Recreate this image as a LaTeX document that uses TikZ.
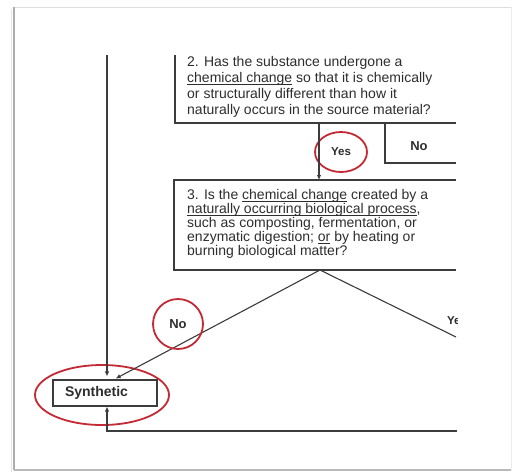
\documentclass[tikz,border=0pt]{standalone}
\usepackage{fontspec}
\setmainfont{Liberation Sans}
\usetikzlibrary{arrows.meta,shapes.geometric}
\definecolor{ink}{HTML}{2E2E2E}
\definecolor{linec}{HTML}{3C3C3C}
\definecolor{ring}{HTML}{C42A35}
\newcommand\fsz[2]{\fontsize{#1}{#2}\selectfont}
\newcommand\undl[1]{\setbox0\hbox{#1}\rlap{\vrule width\wd0 height -1.4pt depth 2.0pt}\box0\relax}
\begin{document}
\begin{tikzpicture}[x=1pt,y=-1pt,
  flow/.style={draw=linec,line width=1.1pt},
  arr/.style={flow,-{Latex[length=5pt,width=4.5pt]}},
  qtext/.style={anchor=north west,inner sep=0pt,align=left,text=ink},
  lbl/.style={text=ink,font=\bfseries\fsz{12}{14}},
  redring/.style={ellipse,draw=ring,line width=1.8pt,inner sep=0pt}]
\useasboundingbox (0,0) rectangle (519,472);
% outer frame
\fill[white] (14,7) rectangle (511,470);
\draw[gray!25,line width=0.8pt] (14,7) -- (511,7);
\draw[gray!15,line width=0.8pt] (511,7) -- (511,470);
\draw[gray!65,line width=1.6pt] (14,7) -- (14,470);
\draw[gray!55,line width=1.6pt] (14,470) -- (511,470);
\draw[gray!20,line width=1.5pt] (11.5,9) -- (11.5,472);

% coordinates
\coordinate (toptrunk) at (107,55);
\coordinate (b2tl) at (175,55);
\coordinate (b2bl) at (175,123);
\coordinate (b2br) at (456,123);
\coordinate (yestop) at (319,123);
\coordinate (nol) at (385,123);
\coordinate (nobl) at (385,163);
\coordinate (nobr) at (456,163);
\coordinate (b3tl) at (174,180);
\coordinate (b3tr) at (456,180);
\coordinate (b3bl) at (174,270);
\coordinate (b3br) at (456,270);
\coordinate (apex) at (320,270);
\coordinate (yesend) at (456,337);
\coordinate (botr) at (457,431);
\coordinate (botl) at (107,431);

% question 2
\node[qtext,font=\fsz{14}{15.9}] (q2) at (187,56.5) {2. Has the substance undergone a\\
\undl{chemical change} so that it is chemically\\
or structurally different than how it\\
naturally occurs in the source material?};
\draw[flow] (b2tl) -- (b2bl) -- (b2br);

% No branch box
\draw[flow] (nol) -- (nobl) -- (nobr);
\node[lbl,font=\bfseries\fsz{13}{15}] (nolbl) at (419,146) {No};

% question 3
\node[qtext,font=\fsz{14}{14.1}] (q3) at (187,189) {3. Is the \undl{chemical change} created by a\\
\undl{naturally occurring biological process},\\
such as composting, fermentation, or\\
enzymatic digestion; \undl{or} by heating or\\
burning biological matter?};
\draw[flow] (b3tr) -- (b3tl) -- (b3bl) -- (b3br);

% Yes arrow between boxes
\node[redring,lbl,font=\bfseries\fsz{11.5}{13},minimum width=52pt,minimum height=40pt] (yesring) at (341,152) {Yes};
\draw[arr] (yestop) -- (319,180);

% Synthetic
\node[draw=linec,line width=1.1pt,text=ink,font=\bfseries\fsz{14}{16},
      text width=80pt,align=left,inner xsep=12pt,inner ysep=0pt,
      minimum height=26pt] (syn) at (105,393) {Synthetic};
\node[redring,minimum width=134pt,minimum height=60pt] (synring) at (102,395) {};

% trunk from top
\draw[arr,shorten >=3pt] (toptrunk) -- (toptrunk |- syn.north);
% bottom return
\draw[arr] (botr) -- (botl) -- (syn.south -| botl);

% No diagonal
\draw[arr,shorten >=3pt] (apex) -- (113,380);
\node[redring,lbl,font=\bfseries\fsz{13}{15},minimum width=50pt,minimum height=50pt] (noring) at (178,324) {No};
% Yes diagonal (cut off)
\draw[flow] (apex) -- (yesend);
\begin{scope}
\clip (300,300) rectangle (457,340);
\node[lbl,anchor=west,inner sep=0pt,font=\bfseries\fsz{11.5}{13}] (yes3) at (447,321) {Yes};
\end{scope}
\end{tikzpicture}
\end{document}
